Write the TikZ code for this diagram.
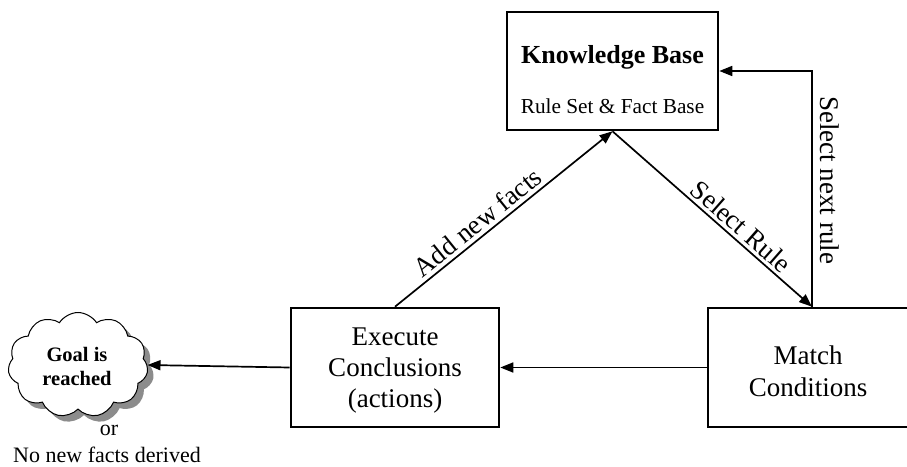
\documentclass[tikz,border=0pt]{standalone}
\usepackage{fontspec}
\setmainfont{Liberation Serif}
\usetikzlibrary{arrows.meta,shapes.symbols,shadows}
\newcommand{\fsz}[2]{\fontsize{#1}{#2}\selectfont}
\begin{document}
\begin{tikzpicture}[x=1pt,y=1pt,
  box/.style={draw, line width=2.6pt, fill=white, inner sep=0pt},
  conn/.style={line width=1.7pt, -{Triangle[length=13pt,width=10pt]}},
  lbl/.style={inner sep=3.5pt, font=\fsz{27}{31}},
  caption/.style={inner sep=0pt, font=\fsz{22}{26}},
  goal/.style={cloud, cloud puffs=11, cloud puff arc=115, cloud ignores aspect,
    draw, line width=1pt, fill=white, inner sep=0pt,
    minimum width=140pt, minimum height=105pt,
    drop shadow={shadow xshift=6pt, shadow yshift=-6pt, fill=black!45, opacity=1}}]
\useasboundingbox (0,0) rectangle (907,466);

% knowledge base
\node[box, minimum width=211pt, minimum height=118pt] (kb) at (612.5,395) {};
\node[font=\fsz{26}{30}\bfseries] (kbtitle) at (612.5,409) {Knowledge Base};
\node[font=\fsz{21.3}{25}] (kbsub) at (612.5,360) {Rule Set \& Fact Base};

% execute and match steps
\node[box, minimum width=208pt, minimum height=119pt] (exec) at (395,98.5) {};
\node[align=center, font=\fsz{27}{31}] (exectxt) at (395,95.5) {Execute\\Conclusions\\(actions)};
\node[box, minimum width=207pt, minimum height=119pt] (match) at (811.5,98.5) {};
\node[align=center, font=\fsz{27}{32}] (matchtxt) at (808,95) {Match\\Conditions};

% goal cloud and caption
\node[goal] (goal) at (78,101) {};
\node[align=center, font=\fsz{20.5}{24}\bfseries] (goaltxt) at (77,100) {Goal is\\reached};
\node[caption] (orlbl) at (109,36) {or};
\node[caption] (nonew) at (107,11) {No new facts derived};

% loop column for the rule selection
\coordinate (loop) at (812,395);

% connectors
\draw[conn] (exec.north) -- node[lbl, sloped, above, pos=0.42] {Add new facts} (kb.south);
\draw[conn] (kb.south) -- node[lbl, sloped, above, pos=0.6] {Select Rule} (loop |- match.north);
\draw[conn] (loop |- match.north) |- (kb.east);
\node[lbl, rotate=-90] (nextlbl) at (830,286) {Select next rule};
\draw[conn] (match.west) -- (exec.east);
\draw[conn] (exec.west) -- (goal.east);
\end{tikzpicture}
\end{document}
